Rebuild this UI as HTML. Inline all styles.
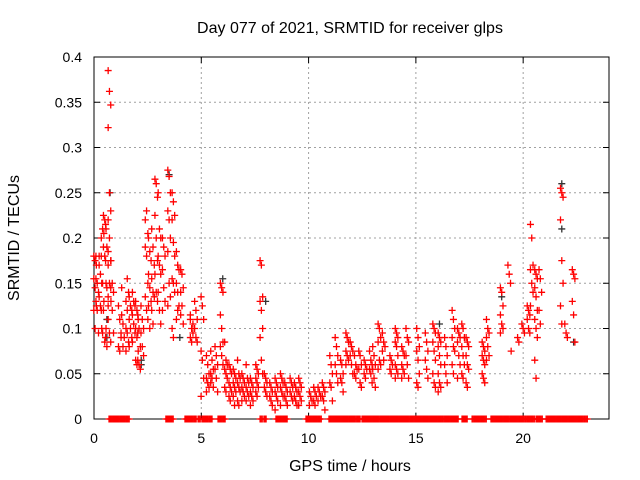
<!DOCTYPE html>
<html><head><meta charset="utf-8"><style>
html,body{margin:0;padding:0;background:#fff;}
svg{display:block;font-family:"Liberation Sans",sans-serif;}
</style></head><body>
<svg id="chart" width="640" height="480" viewBox="0 0 640 480" xmlns="http://www.w3.org/2000/svg">
<rect width="640" height="480" fill="#fff"/>
<g id="grid"></g>
<g id="axes"></g>
<g id="blackSeries"></g>
<g id="redSeries"></g>
<text x="350" y="33" font-size="16" text-anchor="middle" fill="#000">Day 077 of 2021, SRMTID for receiver glps</text>
<text x="350" y="471" font-size="16" text-anchor="middle" fill="#000">GPS time / hours</text>
<text transform="translate(19,238) rotate(-90)" font-size="16" text-anchor="middle" fill="#000">SRMTID / TECUs</text>
</svg>
<script>
const xTicks = [0,5,10,15,20];
const yTicks = [0,0.05,0.1,0.15,0.2,0.25,0.3,0.35,0.4];
const yTickLabels = ["0","0.05","0.1","0.15","0.2","0.25","0.3","0.35","0.4"];
const redGroupHours = [0.05,0.15,0.3,0.4,0.5,0.6,0.72,0.85,1.2,1.35,1.55,1.7,1.85,2.0,2.1,2.25,2.45,2.6,2.75,2.9,3.05,3.25,3.5,3.7,3.9,4.1,4.55,4.75,5.05,5.3,5.5,5.7,5.95,6.15,6.35,6.55,6.75,6.95,7.15,7.35,7.6,7.8,8.0,8.25,8.5,8.75,8.95,9.2,9.4,9.6,10.1,10.3,10.5,10.7,11.05,11.3,11.55,11.8,12.0,12.2,12.4,12.65,12.9,13.05,13.3,13.5,13.85,14.1,14.4,14.6,15.1,15.5,15.85,16.1,16.4,16.75,17.0,17.2,17.4,18.15,18.35,19.0,19.35,19.5,19.8,20.0,20.25,20.4,20.6,20.8,21.8,22.0,22.35];
const redGroupValues = [
[0.18,0.175,0.17,0.155,0.145,0.125,0.12,0.1],
[0.18,0.15,0.14,0.13,0.12,0.095,0.155],
[0.18,0.16,0.15,0.135,0.125,0.1,0.17],
[0.2,0.21,0.205,0.18,0.15,0.13,0.12,0.095],
[0.225,0.22,0.21,0.19,0.18,0.15,0.12,0.085,0.1],
[0.215,0.19,0.185,0.175,0.145,0.125,0.09,0.08],
[0.385,0.362,0.347,0.322,0.25,0.23,0.22,0.2,0.175,0.17,0.15,0.145,0.135,0.095,0.085,0.11],
[0.175,0.15,0.14,0.13,0.12,0.095],
[0.125,0.11,0.09,0.08,0.075,0.095],
[0.115,0.105,0.09,0.145,0.08],
[0.1,0.095,0.085,0.075,0.155,0.14,0.13,0.12],
[0.135,0.125,0.12,0.11,0.1,0.09,0.08],
[0.14,0.13,0.125,0.115,0.105,0.095,0.085],
[0.13,0.12,0.11,0.1,0.09,0.075,0.065,0.06],
[0.115,0.1,0.08,0.065,0.06,0.055,0.095],
[0.125,0.11,0.1,0.095,0.08,0.07],
[0.22,0.23,0.205,0.19,0.18,0.15,0.135,0.12,0.11],
[0.2,0.185,0.175,0.16,0.145,0.13,0.125,0.1],
[0.21,0.19,0.17,0.155,0.14,0.135,0.12,0.105],
[0.265,0.26,0.245,0.225,0.2,0.175,0.16,0.14,0.13],
[0.25,0.21,0.2,0.18,0.17,0.16,0.14,0.12,0.105],
[0.2,0.19,0.18,0.165,0.145,0.13,0.12],
[0.275,0.268,0.25,0.23,0.22,0.2,0.185,0.15,0.135,0.125],
[0.25,0.24,0.225,0.22,0.195,0.18,0.155,0.15,0.14,0.1,0.09],
[0.185,0.17,0.165,0.15,0.14,0.125,0.11,0.12],
[0.165,0.16,0.145,0.14,0.125,0.105,0.115],
[0.11,0.1,0.095,0.09,0.085,0.105,0.115],
[0.13,0.12,0.11,0.1,0.09,0.085],
[0.135,0.125,0.11,0.075,0.065,0.045,0.025],
[0.07,0.06,0.05,0.045,0.04,0.035,0.03],
[0.075,0.065,0.055,0.05,0.045,0.035,0.04],
[0.08,0.07,0.06,0.055,0.045,0.03],
[0.15,0.145,0.14,0.115,0.1,0.085,0.08,0.07,0.06],
[0.085,0.065,0.06,0.055,0.05,0.045,0.035,0.03],
[0.06,0.055,0.05,0.04,0.035,0.03,0.025,0.02],
[0.055,0.05,0.045,0.04,0.035,0.03,0.025,0.015],
[0.065,0.05,0.045,0.04,0.035,0.03,0.02,0.015],
[0.05,0.045,0.04,0.035,0.03,0.025,0.02],
[0.06,0.045,0.04,0.035,0.03,0.025,0.02],
[0.045,0.04,0.035,0.03,0.025,0.02,0.015],
[0.06,0.055,0.05,0.045,0.04,0.035,0.03,0.025],
[0.175,0.17,0.135,0.13,0.12,0.1,0.09,0.065,0.05],
[0.05,0.045,0.04,0.035,0.03,0.025],
[0.04,0.035,0.03,0.025,0.02,0.015],
[0.045,0.04,0.035,0.03,0.025,0.02,0.01],
[0.05,0.045,0.04,0.035,0.03,0.025,0.015],
[0.04,0.035,0.03,0.025,0.02,0.015],
[0.045,0.04,0.035,0.03,0.025,0.02],
[0.04,0.035,0.03,0.025,0.02,0.015],
[0.045,0.04,0.035,0.03,0.025,0.02,0.015],
[0.03,0.025,0.02,0.015],
[0.035,0.03,0.025,0.02,0.015],
[0.035,0.03,0.025,0.02],
[0.04,0.035,0.03,0.025,0.02,0.01],
[0.07,0.06,0.05,0.04,0.035,0.02],
[0.09,0.08,0.07,0.06,0.05,0.04],
[0.065,0.06,0.05,0.045,0.04,0.03],
[0.095,0.09,0.085,0.075,0.07,0.065,0.06],
[0.085,0.08,0.075,0.07,0.06,0.05],
[0.07,0.06,0.055,0.05,0.045],
[0.075,0.07,0.06,0.055,0.04,0.035],
[0.065,0.06,0.055,0.05,0.045],
[0.075,0.065,0.06,0.055,0.05,0.04],
[0.08,0.07,0.06,0.055,0.045,0.035],
[0.105,0.1,0.09,0.085,0.065,0.06,0.055],
[0.095,0.085,0.08,0.075,0.065],
[0.07,0.065,0.06,0.055,0.05],
[0.1,0.095,0.09,0.085,0.08,0.07,0.06,0.055,0.05,0.045],
[0.08,0.075,0.07,0.06,0.055,0.05,0.045],
[0.1,0.09,0.085,0.07,0.06,0.045],
[0.1,0.09,0.08,0.075,0.065,0.05,0.04,0.035],
[0.095,0.085,0.075,0.065,0.055,0.045],
[0.105,0.1,0.095,0.085,0.075,0.065,0.05,0.04,0.035],
[0.095,0.09,0.085,0.08,0.07,0.06,0.05,0.04,0.035,0.03],
[0.09,0.08,0.07,0.06,0.05,0.04],
[0.12,0.11,0.1,0.09,0.08,0.075,0.06,0.05],
[0.1,0.095,0.09,0.085,0.07,0.06,0.045],
[0.105,0.1,0.09,0.08,0.07,0.06,0.05,0.045],
[0.09,0.085,0.08,0.07,0.06,0.055,0.04,0.035],
[0.085,0.08,0.075,0.07,0.065,0.06,0.05,0.045,0.04],
[0.11,0.1,0.095,0.09,0.08,0.07,0.065],
[0.145,0.14,0.125,0.115,0.105,0.1,0.095],
[0.17,0.16,0.15],
[0.075],
[0.09,0.085],
[0.105,0.1,0.095],
[0.125,0.12,0.115,0.11,0.1,0.095],
[0.215,0.2,0.17,0.165,0.15,0.14,0.125],
[0.165,0.16,0.155,0.145,0.135,0.12,0.11,0.1,0.09,0.065,0.045],
[0.165,0.155,0.14,0.12,0.105],
[0.255,0.25,0.245,0.22,0.175,0.15,0.125,0.105],
[0.105,0.095,0.09],
[0.165,0.16,0.155,0.13,0.115,0.085]
];
const blackHours = [0.6,0.6,0.75,2.2,2.2,3.5,4.0,6.0,8.0,16.1,19.0,21.8,21.8,22.35];
const blackValues = [0.11,0.09,0.25,0.065,0.06,0.27,0.09,0.155,0.13,0.105,0.135,0.26,0.21,0.085];
const zeroHours = [0.75,0.85,0.95,1.05,1.15,1.26,1.35,1.45,1.59,3.4,3.52,3.64,4.29,4.4,4.5,4.6,4.71,4.9,5.08,5.22,5.35,5.45,5.83,5.95,6.06,7.79,7.97,8.53,8.65,8.75,8.85,8.95,9.93,10.05,10.15,10.25,10.35,10.45,10.54,11.0,11.1,11.2,11.3,11.42,11.52,11.62,11.72,11.82,11.93,12.07,12.2,12.35,12.54,12.65,12.77,12.87,12.97,13.07,13.17,13.27,13.4,13.52,13.61,13.73,13.85,13.89,14.0,14.1,14.2,14.3,14.4,14.5,14.59,14.69,14.8,14.9,15.0,15.1,15.2,15.3,15.4,15.5,15.6,15.7,15.85,15.94,16.04,16.13,16.18,16.3,16.4,16.5,16.6,16.7,16.8,16.92,17.2,17.34,17.67,17.8,17.9,18.0,18.1,18.23,18.55,18.65,18.75,18.85,18.95,19.05,19.15,19.25,19.35,19.49,19.53,19.65,19.75,19.85,19.95,20.05,20.19,20.28,20.38,20.47,20.65,20.75,20.84,21.12,21.22,21.32,21.42,21.52,21.62,21.72,21.82,21.91,22.0,22.1,22.2,22.3,22.4,22.5,22.6,22.7,22.8,22.94];

const NS = "http://www.w3.org/2000/svg";
const L = 94, R = 609, T = 57, B = 419;
function xs(h){ return L + (h / 24) * (R - L); }
function ys(v){ return B - (v / 0.4) * (B - T); }
function mk(tag, attrs, parent){
  const e = document.createElementNS(NS, tag);
  for (const k in attrs) e.setAttribute(k, attrs[k]);
  parent.appendChild(e);
  return e;
}
const grid = document.getElementById('grid');
const axes = document.getElementById('axes');
yTicks.forEach((t, i) => {
  const y = ys(t);
  if (i > 0 && i < yTicks.length - 1) {
    const g = mk('line', {x1: L, x2: R, y1: y, y2: y, stroke: '#a0a0a0', 'stroke-dasharray': '2,3', 'stroke-width': 1}, grid);
    
    
  }
  const tk = mk('path', {d: `M${L},${y}h6M${R},${y}h-6`, stroke: '#000', 'stroke-width': 1}, axes);
  
  
  const lb = mk('text', {x: L - 12, y: y + 5, 'font-size': 14, 'text-anchor': 'end', fill: '#000'}, axes);
  lb.textContent = yTickLabels[i];
  
  
});
xTicks.forEach((t, i) => {
  const x = xs(t);
  if (i > 0) {
    const g = mk('line', {x1: x, x2: x, y1: T, y2: B, stroke: '#a0a0a0', 'stroke-dasharray': '2,3', 'stroke-width': 1}, grid);
    
    
  }
  const tk = mk('path', {d: `M${x},${B}v-6M${x},${T}v6`, stroke: '#000', 'stroke-width': 1}, axes);
  
  
  const lb = mk('text', {x: x, y: B + 24, 'font-size': 14, 'text-anchor': 'middle', fill: '#000'}, axes);
  lb.textContent = String(t);
  
  
});
const frame = mk('rect', {x: L, y: T, width: R - L, height: B - T, fill: 'none', stroke: '#000', 'stroke-width': 1}, axes);



function plus(h, v, color, parent, name){
  const x = xs(h), y = ys(v);
  const p = mk('path', {d: `M${x-3.5},${y}h7M${x},${y-3.5}v7`, stroke: color, 'stroke-width': 1.3, fill: 'none'}, parent);
  
  
}
const bs = document.getElementById('blackSeries');
blackHours.forEach((h, i) => plus(h, blackValues[i], '#333', bs, 'black-point'));
const rs = document.getElementById('redSeries');
redGroupHours.forEach((h, i) => {
  redGroupValues[i].forEach((v, j) => plus(h + (j % 3 - 1) * 0.06, v, '#ff0000', rs, 'red-point'));
});
const zeroOffsets = [-0.05, 0, 0.05];
zeroHours.forEach(h => zeroOffsets.forEach(o => plus(h + o, 0, '#ff0000', rs, 'zero-point')));
</script>
</body></html>
